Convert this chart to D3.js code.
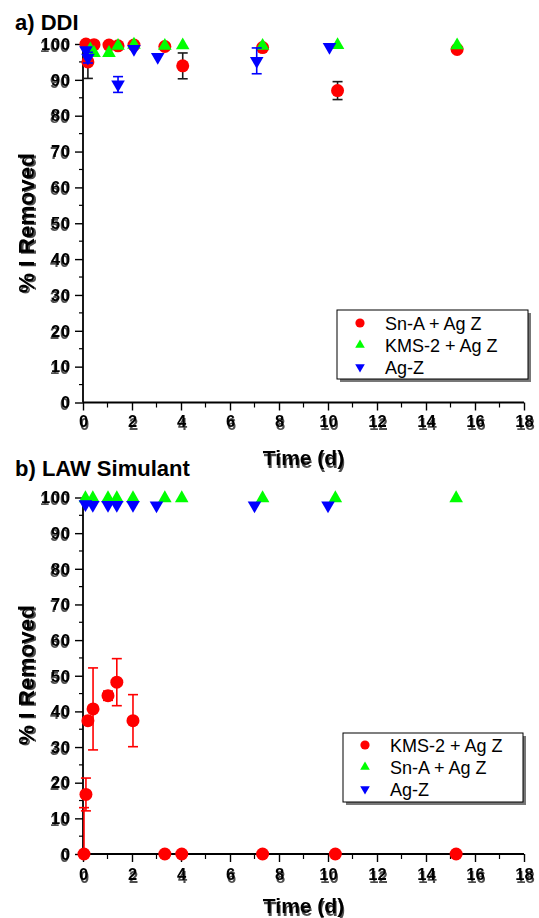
<!DOCTYPE html>
<html>
<head>
<meta charset="utf-8">
<script src="https://cdn.jsdelivr.net/npm/d3@7"></script>
<style>
  html, body { margin: 0; padding: 0; background: #fff; }
  svg { display: block; }
  text { font-family: "Liberation Sans", Arial, Helvetica, sans-serif; }
</style>
</head>
<body>
<svg id="chart" width="539" height="918"></svg>
<script>
// ---- axis ticks ----
const xTickValues = [0, 2, 4, 6, 8, 10, 12, 14, 16, 18];
const xMinorValues = [1, 3, 5, 7, 9, 11, 13, 15, 17];
const yTickValues = [0, 10, 20, 30, 40, 50, 60, 70, 80, 90, 100];
const yMinorValues = [5, 15, 25, 35, 45, 55, 65, 75, 85, 95];

// ---- a) DDI ----
const ddiSnATime  = [0.12, 0.2, 0.45, 1.06, 1.43, 2.08, 3.34, 4.07, 7.33, 10.39, 15.27];
const ddiSnAValue = [100, 95.0, 99.8, 99.7, 99.5, 99.7, 99.3, 93.9, 99.0, 87.0, 98.5];
const ddiSnAError = [0, 4.6, 0, 0, 0, 0, 0, 3.6, 0, 2.5, 0];

const ddiKmsTime  = [0.3, 0.45, 1.06, 1.43, 2.08, 3.34, 4.07, 7.33, 10.39, 15.27];
const ddiKmsValue = [98.5, 97.5, 97.5, 99.5, 99.8, 99.5, 99.6, 99.5, 99.7, 99.6];

const ddiAgzTime  = [0.12, 0.2, 1.43, 2.08, 3.05, 7.09, 10.06];
const ddiAgzValue = [98.3, 96.2, 88.7, 98.6, 96.4, 95.3, 99.2];
const ddiAgzError = [0, 1.5, 2.2, 0, 0, 3.6, 0];

// ---- b) LAW Simulant ----
const lawKmsTime  = [0.04, 0.12, 0.2, 0.41, 1.02, 1.38, 2.04, 3.34, 4.03, 7.33, 10.3, 15.23];
const lawKmsValue = [0, 16.7, 37.4, 40.7, 44.4, 48.2, 37.4, 0, 0, 0, 0, 0];
const lawKmsError = [13, 4.6, 0.9, 11.5, 1.3, 6.6, 7.3, 0, 0, 0, 0, 0];

const lawSnATime  = [0.1, 0.4, 1.02, 1.38, 2.04, 3.34, 4.03, 7.33, 10.3, 15.23];
const lawSnAValue = [99.8, 99.8, 99.8, 99.8, 99.8, 99.8, 99.8, 99.8, 99.8, 99.8];

const lawAgzTime  = [0.1, 0.4, 1.02, 1.38, 2.04, 3.0, 7.0, 10.0];
const lawAgzValue = [98.1, 97.9, 97.9, 97.9, 97.9, 97.8, 97.8, 97.8];

const RED = "#ff0000", GREEN = "#00ff00", BLUE = "#0000ff";

function series(label, color, shape, t, v, e, errColor) {
  return {
    label, color, shape, errColor: errColor || color,
    points: t.map((x, i) => ({ t: x, v: v[i], e: e ? e[i] : 0 }))
  };
}

const panels = [
  {
    title: "a) DDI", titleY: 29.5,
    x0: 83, x1: 524, yTop: 44, yBottom: 402.5,
    xLabelY: 427, xTitleY: 465, yTitleCenter: 223,
    legend: { x: 337, y: 310, w: 191, h: 69, mx: 360, tx: 385, rows: [323, 345, 367] },
    series: [
      series("Sn-A + Ag Z", RED, "circle", ddiSnATime, ddiSnAValue, ddiSnAError, "#1a1a1a"),
      series("KMS-2 + Ag Z", GREEN, "up", ddiKmsTime, ddiKmsValue, null),
      series("Ag-Z", BLUE, "down", ddiAgzTime, ddiAgzValue, ddiAgzError)
    ]
  },
  {
    title: "b) LAW Simulant", titleY: 476,
    x0: 83, x1: 524, yTop: 497.5, yBottom: 854,
    xLabelY: 880, xTitleY: 913, yTitleCenter: 675,
    legend: { x: 343, y: 733, w: 180, h: 69, mx: 365, tx: 390, rows: [745, 767, 789] },
    series: [
      series("KMS-2 + Ag Z", RED, "circle", lawKmsTime, lawKmsValue, lawKmsError),
      series("Sn-A + Ag Z", GREEN, "up", lawSnATime, lawSnAValue, null),
      series("Ag-Z", BLUE, "down", lawAgzTime, lawAgzValue, null)
    ]
  }
];

const svg = d3.select("#chart");

// doubled-print look of the axis lettering
const defs = svg.append("defs");
function ghostFilter(id, dx, dy) {
  const f = defs.append("filter").attr("id", id)
    .attr("x", "-20%").attr("y", "-30%").attr("width", "140%").attr("height", "170%");
  f.append("feOffset").attr("in", "SourceGraphic").attr("dx", dx).attr("dy", dy).attr("result", "off");
  f.append("feComponentTransfer").attr("in", "off").attr("result", "offa")
    .append("feFuncA").attr("type", "linear").attr("slope", 0.7);
  const m = f.append("feMerge");
  m.append("feMergeNode").attr("in", "offa");
  m.append("feMergeNode").attr("in", "SourceGraphic");
}
ghostFilter("ghostX", 0.6, 2.5);
ghostFilter("ghostY", -1, 2);

function drawMarker(g, shape, cx, cy, color, big) {
  if (shape === "circle") {
    g.append("circle").attr("cx", cx).attr("cy", cy).attr("r", big ? 6.5 : 4.6).attr("fill", color);
  } else {
    const size = big ? 80 : 40;
    g.append("path").attr("d", d3.symbol().type(d3.symbolTriangle).size(size)())
      .attr("transform", `translate(${cx},${cy})` + (shape === "down" ? " rotate(180)" : ""))
      .attr("fill", color);
  }
}

panels.forEach(p => {
  const x = d3.scaleLinear().domain([0, 18]).range([p.x0, p.x1]);
  const y = d3.scaleLinear().domain([0, 100]).range([p.yBottom, p.yTop]);
  const g = svg.append("g");

  // y axis
  const yAxis = g.append("g").attr("transform", `translate(${p.x0},0)`)
    .call(d3.axisLeft(y).tickValues(yTickValues).tickSize(8).tickPadding(4).tickFormat(d3.format("d")));
  yAxis.select(".domain").attr("stroke", "#000").attr("stroke-width", 1.8).attr("d", `M0,${y(0)}V${y(100)}`);
  yAxis.selectAll(".tick line").attr("stroke", "#000").attr("stroke-width", 1.4);
  yAxis.selectAll(".tick text")
    .attr("font-size", 16.5).attr("font-weight", "bold").attr("fill", "#000")
    .attr("letter-spacing", 0.8).attr("filter", "url(#ghostY)")
    .attr("font-family", "'Liberation Sans', Arial, sans-serif");
  g.append("g").selectAll("line").data(yMinorValues).join("line")
    .attr("x1", p.x0 - 4).attr("x2", p.x0).attr("y1", d => y(d)).attr("y2", d => y(d))
    .attr("stroke", "#000").attr("stroke-width", 1.2);

  // x axis
  const xAxis = g.append("g").attr("transform", `translate(0,${p.yBottom})`)
    .call(d3.axisBottom(x).tickValues(xTickValues).tickSize(8).tickPadding(5).tickFormat(d3.format("d")));
  xAxis.select(".domain").attr("stroke", "#000").attr("stroke-width", 1.8).attr("d", `M${x(0)},0H${x(18)}`);
  xAxis.selectAll(".tick line").attr("stroke", "#000").attr("stroke-width", 1.4);
  xAxis.selectAll(".tick text")
    .attr("font-size", 16.5).attr("font-weight", "bold").attr("fill", "#000")
    .attr("y", p.xLabelY - p.yBottom).attr("dy", 0)
    .attr("filter", "url(#ghostX)")
    .attr("font-family", "'Liberation Sans', Arial, sans-serif");
  g.append("g").selectAll("line").data(xMinorValues).join("line")
    .attr("x1", d => x(d)).attr("x2", d => x(d)).attr("y1", p.yBottom).attr("y2", p.yBottom + 5)
    .attr("stroke", "#000").attr("stroke-width", 1.2);

  // titles
  g.append("text").attr("x", 15).attr("y", p.titleY).text(p.title)
    .attr("font-size", 22).attr("font-weight", "bold");
  g.append("text").attr("x", (p.x0 + p.x1) / 2).attr("y", p.xTitleY).attr("text-anchor", "middle")
    .text("Time (d)").attr("font-size", 21).attr("font-weight", "bold").attr("filter", "url(#ghostX)");
  g.append("text").attr("transform", `translate(34,${p.yTitleCenter}) rotate(-90)`)
    .attr("text-anchor", "middle").text("% I Removed")
    .attr("font-size", 22.5).attr("font-weight", "bold").attr("filter", "url(#ghostY)");

  // data: error bars under each series' markers
  p.series.forEach(s => {
    const sg = g.append("g");
    s.points.filter(d => d.e > 0).forEach(d => {
      const hi = d.v + d.e, lo = Math.max(0, d.v - d.e);
      const cx = x(d.t);
      sg.append("line").attr("x1", cx).attr("x2", cx).attr("y1", y(hi)).attr("y2", y(lo))
        .attr("stroke", s.errColor).attr("stroke-width", 1.6);
      sg.append("line").attr("x1", cx - 5).attr("x2", cx + 5).attr("y1", y(hi)).attr("y2", y(hi))
        .attr("stroke", s.errColor).attr("stroke-width", 1.6);
      if (d.v - d.e > 0) {
        sg.append("line").attr("x1", cx - 5).attr("x2", cx + 5).attr("y1", y(lo)).attr("y2", y(lo))
          .attr("stroke", s.errColor).attr("stroke-width", 1.6);
      }
    });
    s.points.forEach(d => drawMarker(sg, s.shape, x(d.t), y(d.v), s.color, true));
  });

  // legend with drop shadow
  const L = p.legend;
  const lg = g.append("g");
  lg.append("rect").attr("x", L.x + 3).attr("y", L.y + 3).attr("width", L.w).attr("height", L.h)
    .attr("fill", "#777");
  lg.append("rect").attr("x", L.x).attr("y", L.y).attr("width", L.w).attr("height", L.h)
    .attr("fill", "#fff").attr("stroke", "#000").attr("stroke-width", 1);
  p.series.forEach((s, i) => {
    drawMarker(lg, s.shape, L.mx, L.rows[i], s.color, false);
    lg.append("text").attr("x", L.tx).attr("y", L.rows[i] + 6.5).text(s.label)
      .attr("font-size", 18).attr("fill", "#000");
  });
});
</script>
</body>
</html>
